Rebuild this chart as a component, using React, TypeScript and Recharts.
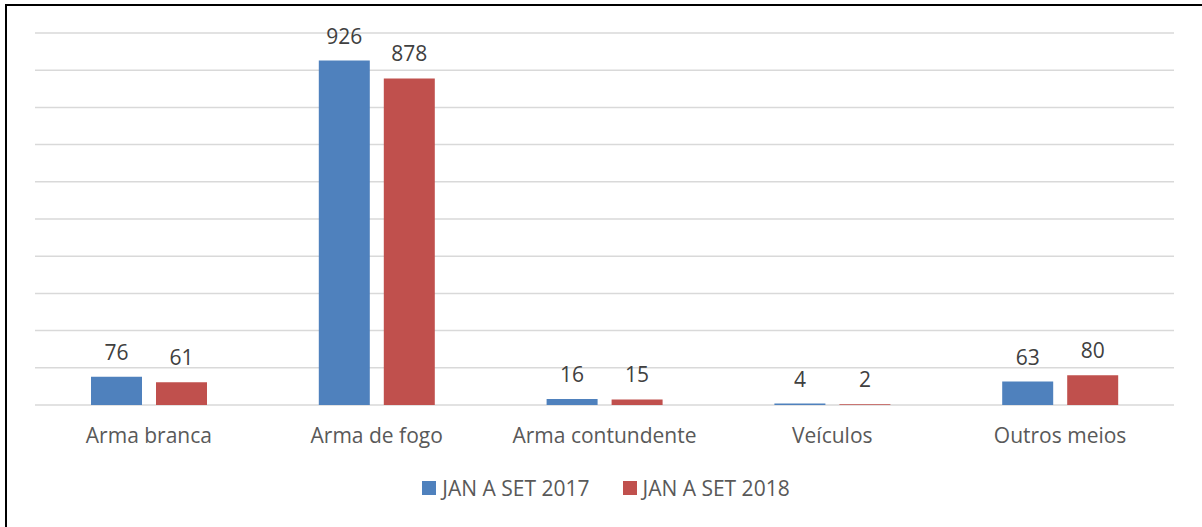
import { BarChart, Bar, XAxis, YAxis, CartesianGrid, Legend, LabelList } from "recharts";

const categories = ["Arma branca", "Arma de fogo", "Arma contundente", "Veículos", "Outros meios"];
const values2017 = [76, 926, 16, 4, 63];
const values2018 = [61, 878, 15, 2, 80];
const yTicks = [0, 100, 200, 300, 400, 500, 600, 700, 800, 900, 1000];

const data = categories.map((name, i) => ({
  name,
  y2017: values2017[i],
  y2018: values2018[i],
}));

const FONT = "'Open Sans', Lato, sans-serif";

function LegendContent({ payload }: any) {
  return (
    <div style={{ display: "flex", justifyContent: "center", fontFamily: FONT, fontSize: 21, color: "#595959" }}>
      {(payload || []).map((p: any, i: number) => (
        <div key={p.value} style={{ display: "flex", alignItems: "center", marginLeft: i === 0 ? 0 : 33 }}>
          <span style={{ width: 14, height: 14, background: p.color, display: "inline-block", marginRight: 6 }} />
          <span>{p.value}</span>
        </div>
      ))}
    </div>
  );
}

export default function App() {
  return (
    <div style={{ position: "absolute", left: 0, top: 0, width: 1202, height: 527, background: "#fff", overflow: "hidden" }}>
      <div
        style={{
          position: "absolute",
          left: 5,
          top: 4,
          width: 1300,
          height: 600,
          borderLeft: "2px solid #000",
          borderTop: "2px solid #000",
        }}
      />
      <BarChart
        width={1202}
        height={527}
        data={data}
        margin={{ top: 33, right: 28, left: 35, bottom: 82 }}
        barGap={14}
        barSize={51}
      >
        <CartesianGrid vertical={false} stroke="#d9d9d9" strokeWidth={1.5} />
        <YAxis hide domain={[0, 1000]} ticks={yTicks} />
        <XAxis
          dataKey="name"
          axisLine={false}
          tickLine={false}
          tickSize={0}
          tickMargin={23}
          height={40}
          interval={0}
          tick={{ fill: "#595959", fontSize: 21, fontFamily: FONT }}
        />
        <Legend
          verticalAlign="middle"
          align="center"
          wrapperStyle={{ top: 474, left: 0, width: 1212 }}
          content={<LegendContent />}
        />
        <Bar dataKey="y2017" name="JAN A SET 2017" fill="#4f81bd" isAnimationActive={false}>
          <LabelList dataKey="y2017" position="top" offset={17} fill="#404040" fontSize={21} fontFamily={FONT} />
        </Bar>
        <Bar dataKey="y2018" name="JAN A SET 2018" fill="#c0504d" isAnimationActive={false}>
          <LabelList dataKey="y2018" position="top" offset={17} fill="#404040" fontSize={21} fontFamily={FONT} />
        </Bar>
      </BarChart>
    </div>
  );
}
